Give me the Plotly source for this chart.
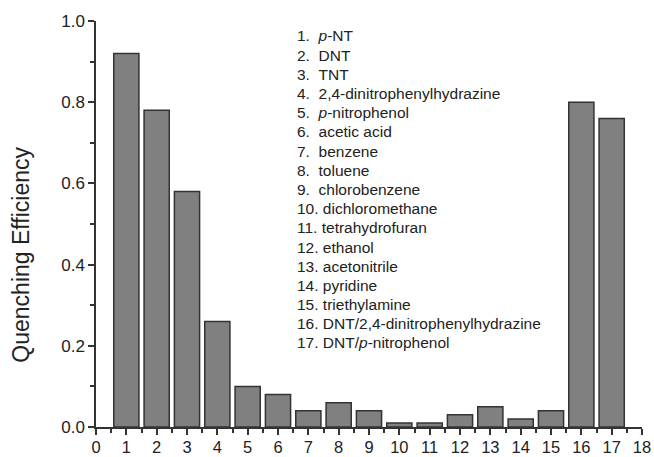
import plotly.graph_objects as go

# Analyte index, quenching efficiency and analyte names
analyte_ids = list(range(1, 18))
efficiency = [0.92, 0.78, 0.58, 0.26, 0.10, 0.08, 0.04, 0.06, 0.04,
              0.01, 0.01, 0.03, 0.05, 0.02, 0.04, 0.80, 0.76]
analyte_names = [
    "<i>p</i>-NT", "DNT", "TNT", "2,4-dinitrophenylhydrazine",
    "<i>p</i>-nitrophenol", "acetic acid", "benzene", "toluene",
    "chlorobenzene", "dichloromethane", "tetrahydrofuran", "ethanol",
    "acetonitrile", "pyridine", "triethylamine",
    "DNT/2,4-dinitrophenylhydrazine", "DNT/<i>p</i>-nitrophenol",
]
x_ticks = list(range(0, 19))
y_ticks = [0.0, 0.2, 0.4, 0.6, 0.8, 1.0]

FONT = "Liberation Sans, Arial, sans-serif"
INK = "#222222"

fig = go.Figure(
    go.Bar(
        x=analyte_ids,
        y=efficiency,
        width=0.83,
        marker=dict(color="#808080", line=dict(color="#333333", width=1.5)),
        hoverinfo="x+y",
    )
)

# Numbered key of analytes, one line per entry
plot_top_px, plot_h_px = 20.7, 406.3
for i, (n, name) in enumerate(zip(analyte_ids, analyte_names)):
    sep = "\u00a0\u00a0" if n < 10 else "\u00a0"
    py = 35.7 + 19.2 * i
    fig.add_annotation(
        x=6.56, xref="x", xanchor="left",
        y=1 - (py - plot_top_px) / plot_h_px, yref="y", yanchor="middle",
        text=f"{n}.{sep}{name}", showarrow=False,
        font=dict(family=FONT, size=15.5, color=INK),
    )

# Vertical axis title
fig.add_annotation(
    x=-0.137, xref="paper", xanchor="center",
    y=0.425, yref="paper", yanchor="middle",
    text="Quenching Efficiency", textangle=-90, showarrow=False,
    font=dict(family=FONT, size=23, color=INK),
)

fig.update_layout(
    width=654, height=457,
    margin=dict(l=96, r=12, t=21, b=30),
    paper_bgcolor="white", plot_bgcolor="white",
    showlegend=False,
    font=dict(family=FONT, color=INK),
    xaxis=dict(
        range=[0, 18], tickvals=x_ticks, ticktext=[str(v) for v in x_ticks],
        automargin=False,
        showline=True, linecolor="#333333", linewidth=1.5,
        ticks="outside", ticklen=6, tickwidth=1.5, tickcolor="#333333",
        minor=dict(ticks="outside", ticklen=4, tickwidth=1.5, tickcolor="#333333", dtick=0.5),
        showgrid=False, zeroline=False,
        ticklabelstandoff=-2,
        tickfont=dict(family=FONT, size=16.5, color=INK),
    ),
    yaxis=dict(
        range=[0, 1.0], tickvals=y_ticks, ticktext=[f"{v:.1f}" for v in y_ticks],
        automargin=False,
        showline=True, linecolor="#333333", linewidth=1.5,
        ticks="outside", ticklen=6, tickwidth=1.5, tickcolor="#333333",
        minor=dict(ticks="outside", ticklen=4, tickwidth=1.5, tickcolor="#333333", dtick=0.1),
        showgrid=False, zeroline=False,
        tickfont=dict(family=FONT, size=17, color=INK),
    ),
)

fig.write_html("out.html")
